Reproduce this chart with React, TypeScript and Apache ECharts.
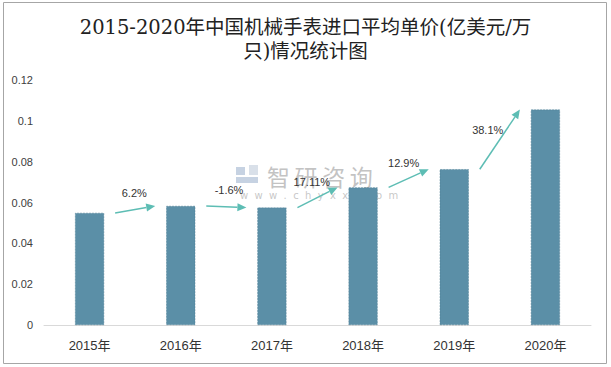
import React, { useEffect, useRef } from "react";
import * as echarts from "echarts";

const categories = ["2015年", "2016年", "2017年", "2018年", "2019年", "2020年"];
const prices = [0.0549, 0.0583, 0.0575, 0.0674, 0.0763, 0.1055];
const growthLabels = ["6.2%", "-1.6%", "17.11%", "12.9%", "38.1%"];
const yTicks = { min: 0, max: 0.12, interval: 0.02 };
const titleText = "2015-2020年中国机械手表进口平均单价(亿美元/万\n只)情况统计图";
const watermarkText = "智\u2009研\u2009咨\u2009询";
const watermarkUrl = "w  w  w  .  c  h  y  x  x  .  c  o  m";

export default function App() {
  const ref = useRef<HTMLDivElement>(null);
  useEffect(() => {
    if (!ref.current) return;
    const chart = echarts.init(ref.current, undefined, { renderer: "svg" });
    const arrowData = growthLabels.map((g, i) => [i, prices[i], prices[i + 1], g]);
    const arrowColor = "#5dbdb4";
    chart.setOption({
      animation: false,
      backgroundColor: "#ffffff",
      title: {
        text: titleText,
        left: "center",
        top: 10,
        textStyle: {
          fontFamily: "'DejaVu Serif', 'Noto Sans CJK SC'",
          fontSize: 19.5,
          fontWeight: "normal",
          lineHeight: 24,
          color: "#222222",
        },
      },
      grid: { left: 44, right: 20, top: 80, bottom: 42 },
      xAxis: {
        type: "category",
        data: categories,
        axisLine: { lineStyle: { color: "#d9d9d9", width: 1 } },
        axisTick: { show: false },
        axisLabel: {
          color: "#333333",
          fontSize: 13,
          margin: 14,
          fontFamily: "'Liberation Sans', 'Noto Sans CJK SC'",
        },
      },
      yAxis: {
        type: "value",
        min: yTicks.min,
        max: yTicks.max,
        interval: yTicks.interval,
        axisLine: { show: false },
        axisTick: { show: false },
        splitLine: { show: false },
        axisLabel: {
          color: "#404040",
          fontSize: 11,
          margin: 11,
          fontFamily: "'Liberation Sans', sans-serif",
        },
      },
      graphic: [
        {
          type: "rect",
          shape: { x: 3.5, y: 2.5, width: 603, height: 361 },
          style: { fill: "none", stroke: "#a6a6a6", lineWidth: 1 },
          silent: true,
          z: 100,
        },
        {
          type: "rect",
          shape: { x: 236, y: 167, width: 9, height: 8 },
          style: { fill: "#aebfd6", opacity: 0.7 },
          silent: true,
          z: 1,
        },
        {
          type: "rect",
          shape: { x: 236, y: 177, width: 22, height: 6 },
          style: { fill: "#aebfd6", opacity: 0.7 },
          silent: true,
          z: 1,
        },
        {
          type: "rect",
          shape: { x: 249, y: 165, width: 9, height: 10 },
          style: { fill: "#c9d3e0", opacity: 0.7 },
          silent: true,
          z: 1,
        },
        {
          type: "text",
          left: 267,
          top: 164,
          style: {
            text: watermarkText,
            fill: "#b8b8b8",
            fontSize: 23,
            fontFamily: "'Noto Sans CJK SC'",
            opacity: 0.85,
          },
          silent: true,
          z: 1,
        },
        {
          type: "text",
          left: 240,
          top: 190,
          style: {
            text: watermarkUrl,
            fill: "#bdbdbd",
            fontSize: 10,
            fontFamily: "'DejaVu Sans'",
            opacity: 0.85,
          },
          silent: true,
          z: 1,
        },
      ],
      series: [
        {
          type: "bar",
          data: prices,
          barWidth: 29,
          itemStyle: { color: "#5b8fa7", borderColor: "#4d7d93", borderWidth: 0.5, borderType: "dashed" },
        },
        {
          type: "custom",
          data: arrowData,
          z: 10,
          renderItem: (params: any, api: any) => {
            const i = api.value(0);
            const p1 = api.coord([i, api.value(1)]);
            const p2 = api.coord([i + 1, api.value(2)]);
            const band = api.size([1, 0])[0];
            const off = band * 0.28;
            const sx = p1[0] + off;
            const sy = p1[1];
            const ex = p2[0] - off;
            const ey = p2[1];
            const dx = ex - sx;
            const dy = ey - sy;
            const len = Math.sqrt(dx * dx + dy * dy);
            const ang = Math.atan2(dy, dx);
            const hl = 9;
            const hw = 4;
            const bx = ex - hl * Math.cos(ang);
            const by = ey - hl * Math.sin(ang);
            const nx = -Math.sin(ang);
            const ny = Math.cos(ang);
            const mx = (sx + ex) / 2;
            const my = (sy + ey) / 2;
            const lx = mx + (dy / len) * 17 + 2;
            const ly = my + (-dx / len) * 17;
            const label = arrowData[params.dataIndex][3] as string;
            return {
              type: "group",
              children: [
                {
                  type: "line",
                  shape: { x1: sx, y1: sy, x2: bx, y2: by },
                  style: { stroke: arrowColor, lineWidth: 1.5 },
                },
                {
                  type: "polygon",
                  shape: {
                    points: [
                      [ex, ey],
                      [bx + nx * hw, by + ny * hw],
                      [bx - nx * hw, by - ny * hw],
                    ],
                  },
                  style: { fill: arrowColor },
                },
                {
                  type: "text",
                  x: lx,
                  y: ly,
                  style: {
                    text: label,
                    fill: "#333333",
                    fontSize: 11,
                    fontFamily: "'Liberation Sans', sans-serif",
                    align: "center",
                    verticalAlign: "middle",
                  },
                },
              ],
            };
          },
        },
      ],
    });
    return () => chart.dispose();
  }, []);
  return (
    <div
      ref={ref}
      style={{ position: "fixed", left: 0, top: 0, width: 611, height: 367 }}
    />
  );
}
